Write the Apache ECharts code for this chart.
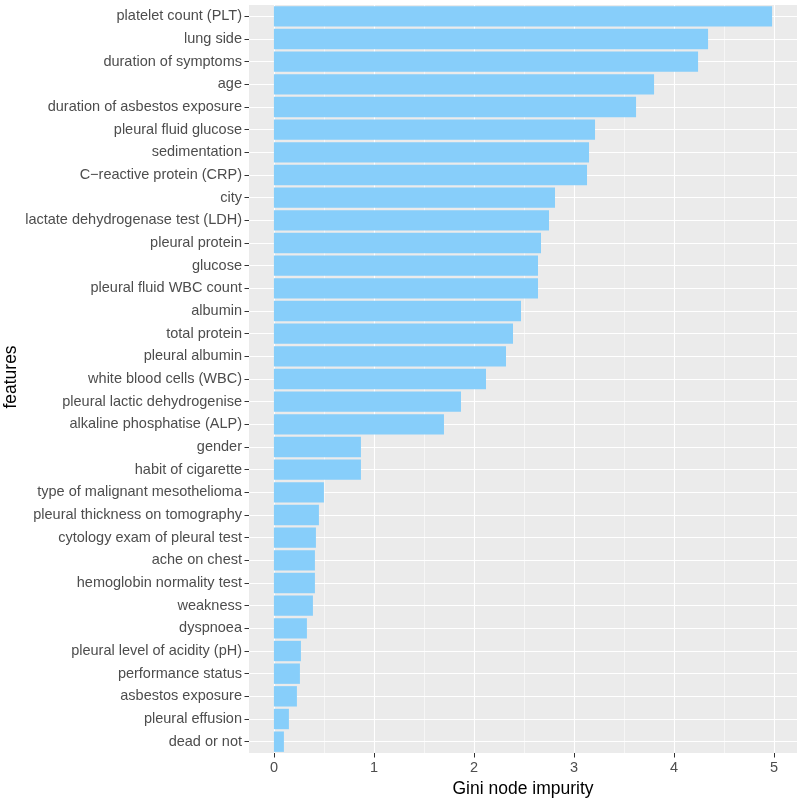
<!DOCTYPE html>
<html><head><meta charset="utf-8">
<script src="https://cdn.jsdelivr.net/npm/echarts@6/dist/echarts.min.js"></script>
<style>html,body{margin:0;padding:0;background:#fff}#c{width:800px;height:800px}</style>
</head><body><div id="c"></div>
<script>
const features = [
  "platelet count (PLT)","lung side","duration of symptoms","age","duration of asbestos exposure",
  "pleural fluid glucose","sedimentation","C\u2212reactive protein (CRP)","city","lactate dehydrogenase test (LDH)",
  "pleural protein","glucose","pleural fluid WBC count","albumin","total protein",
  "pleural albumin","white blood cells (WBC)","pleural lactic dehydrogenise","alkaline phosphatise (ALP)","gender",
  "habit of cigarette","type of malignant mesothelioma","pleural thickness on tomography","cytology exam of pleural test","ache on chest",
  "hemoglobin normality test","weakness","dyspnoea","pleural level of acidity (pH)","performance status",
  "asbestos exposure","pleural effusion","dead or not"
];
const giniValues = [
  4.98,4.34,4.24,3.80,3.62,
  3.21,3.15,3.13,2.81,2.75,
  2.67,2.64,2.64,2.47,2.39,
  2.32,2.12,1.87,1.70,0.87,
  0.87,0.50,0.45,0.42,0.41,
  0.41,0.39,0.33,0.27,0.26,
  0.23,0.15,0.10
];
const xTicks = [0,1,2,3,4,5];
const yTitle = 'features';
const xTitle = 'Gini node impurity';

const maxV = Math.max(...giniValues);
const pad = 0.05 * maxV;
// category indices: horizontal grid lines sit at the category centres
const catIdx = features.map((_, i) => i);

const chart = echarts.init(document.getElementById('c'), null, {renderer:'canvas'});
chart.setOption({
  animation:false,
  backgroundColor:'#ffffff',
  textStyle:{fontFamily:'Liberation Sans, Arial, sans-serif'},
  grid:{left:249,right:3,top:5,bottom:47,show:true,backgroundColor:'#EBEBEB',borderWidth:0,
        containLabel:false,outerBoundsMode:'none'},
  graphic:[{
    type:'text', x:11, y:377, rotation:Math.PI/2, silent:true,
    style:{text:yTitle, fill:'#000', fontSize:17.5, fontFamily:'Liberation Sans, Arial, sans-serif',
           align:'center', verticalAlign:'middle'}
  }],
  xAxis:{
    type:'value', min:-pad, max:maxV+pad,
    name:xTitle, nameLocation:'middle', nameGap:27, nameMoveOverlap:false,
    nameTextStyle:{color:'#000',fontSize:17.5},
    axisLine:{show:false,onZero:false},
    axisTick:{show:true,length:4.5,lineStyle:{color:'#333',width:1},customValues:xTicks},
    axisLabel:{color:'#4D4D4D',fontSize:14.5,margin:7,customValues:xTicks},
    splitLine:{show:true,lineStyle:{color:'#ffffff',width:1.1}},
    minorTick:{show:false,splitNumber:2},
    minorSplitLine:{show:true,lineStyle:{color:'#ffffff',width:0.55}}
  },
  yAxis:[{
    type:'category', data:features, inverse:true,
    axisLine:{show:false,onZero:false},
    axisTick:{show:true,alignWithLabel:true,length:4.5,lineStyle:{color:'#333',width:1}},
    axisLabel:{color:'#4D4D4D',fontSize:14.5,margin:7,interval:0},
    splitLine:{show:false}
  },{
    type:'value', inverse:true, position:'left', min:-0.5, max:features.length-0.5,
    axisLine:{show:false,onZero:false},
    axisTick:{show:false,customValues:catIdx},
    axisLabel:{show:false,customValues:catIdx},
    splitLine:{show:true,lineStyle:{color:'#ffffff',width:1.1}}
  }],
  series:[{
    type:'bar', data:giniValues, barCategoryGap:'10%', yAxisIndex:0,
    itemStyle:{color:'#87CEFA'}, silent:true
  }]
});
</script></body></html>
